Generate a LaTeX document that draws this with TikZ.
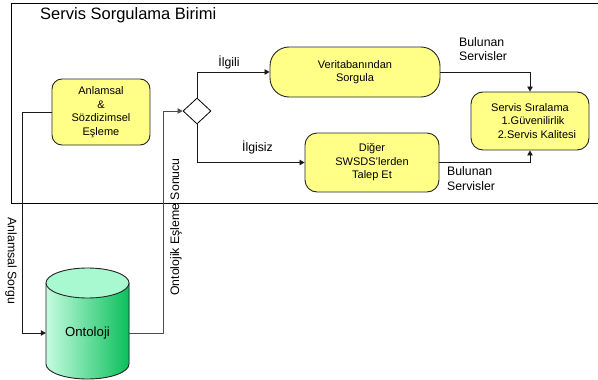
\documentclass[tikz,border=0pt]{standalone}
\usepackage{fontspec}
\setmainfont{Liberation Sans}
\usetikzlibrary{arrows.meta,shapes.geometric}
\definecolor{boxyellow}{HTML}{FFFF88}
\definecolor{mintlight}{HTML}{C6FCE0}
\definecolor{mintdark}{HTML}{0BBF5C}
\definecolor{minttop}{HTML}{A8F8D0}
\tikzset{
  procbox/.style={draw=black!85, line width=0.9pt, fill=boxyellow, align=center,
    font=\fontsize{11}{13.5}\selectfont, inner sep=0pt},
  conn/.style={draw=black!90, line width=0.8pt, -{Triangle[length=5pt,width=5.5pt]}},
  lbl/.style={font=\fontsize{12.3}{14.5}\selectfont, inner sep=0pt},
}
\begin{document}
\begin{tikzpicture}[x=1pt,y=1pt]
\useasboundingbox (0,0) rectangle (598,-380);
% frame
\draw[line width=0.9pt] (598,-3) -- (11,-3) -- (11,-203) -- (598,-203);
\node[anchor=base west, inner sep=0pt, font=\fontsize{16.5}{20}\selectfont] (title) at (40,-19.5) {Servis Sorgulama Birimi};
% boxes
\node[procbox, rounded corners=10pt, minimum width=98pt, minimum height=66pt] (anl) at (101,-112) {Anlamsal\\\&\\Sözdizimsel\\Eşleme};
\node[procbox, rounded corners=19pt, minimum width=170pt, minimum height=50pt] (ver) at (355,-72) {Veritabanından\\Sorgula};
\node[procbox, rounded corners=12pt, minimum width=134pt, minimum height=59pt] (dig) at (372,-162.5) {Diğer\\SWSDS’lerden\\Talep Et};
\node[procbox, rounded corners=12pt, minimum width=118pt, minimum height=58pt] (sir) at (530,-121) {Servis Sıralama\\\hspace*{6pt}1.Güvenilirlik\\\hspace*{14pt}2.Servis Kalitesi};
\node[diamond, draw=black, line width=0.8pt, fill=white, minimum width=28pt, minimum height=26pt, inner sep=0pt] (dia) at (197,-111) {};
% cylinder
\fill[left color=mintlight, right color=mintdark] (46,-283) -- (46,-364) arc[start angle=180, end angle=360, x radius=41.5, y radius=15] -- (129,-283) arc[start angle=0, end angle=180, x radius=41.5, y radius=15] -- cycle;
\draw[line width=0.9pt, black!85] (46,-283) -- (46,-364) arc[start angle=180, end angle=360, x radius=41.5, y radius=15] -- (129,-283);
\draw[line width=0.9pt, black!85, fill=minttop] (87.5,-283) ellipse [x radius=41.5, y radius=15];
\node[minimum width=83pt, inner sep=0pt, font=\fontsize{13.2}{15}\selectfont] (onto) at (87.5,-333) {Ontoloji};
% connectors
\coordinate (c1) at (22,-112);
\draw[conn] (anl.west) -- (c1) |- (onto.west);
\coordinate (c2) at (163,-333);
\draw[conn, draw=black!70] (onto.east) -- (c2) |- (dia.west);
\draw[conn] (dia.north) |- (ver.west);
\draw[conn] (dia.south) |- (dig.west);
\draw[conn] (ver.east) -| (sir.north);
\draw[conn] (dig.east) -| (sir.south);
% labels
\node[lbl] (l1) at (229,-62) {İlgili};
\node[lbl] (l2) at (257.5,-147) {İlgisiz};
\node[lbl, align=left, anchor=west] (l3) at (459,-49) {Bulunan\\Servisler};
\node[lbl, align=left, anchor=west] (l4) at (447,-178.5) {Bulunan\\Servisler};
\node[lbl, rotate=-90] (l5) at (11,-261) {Anlamsal Sorgu};
\node[lbl, rotate=90] (l6) at (176,-227) {Ontolojik Eşleme Sonucu};
\end{tikzpicture}
\end{document}
